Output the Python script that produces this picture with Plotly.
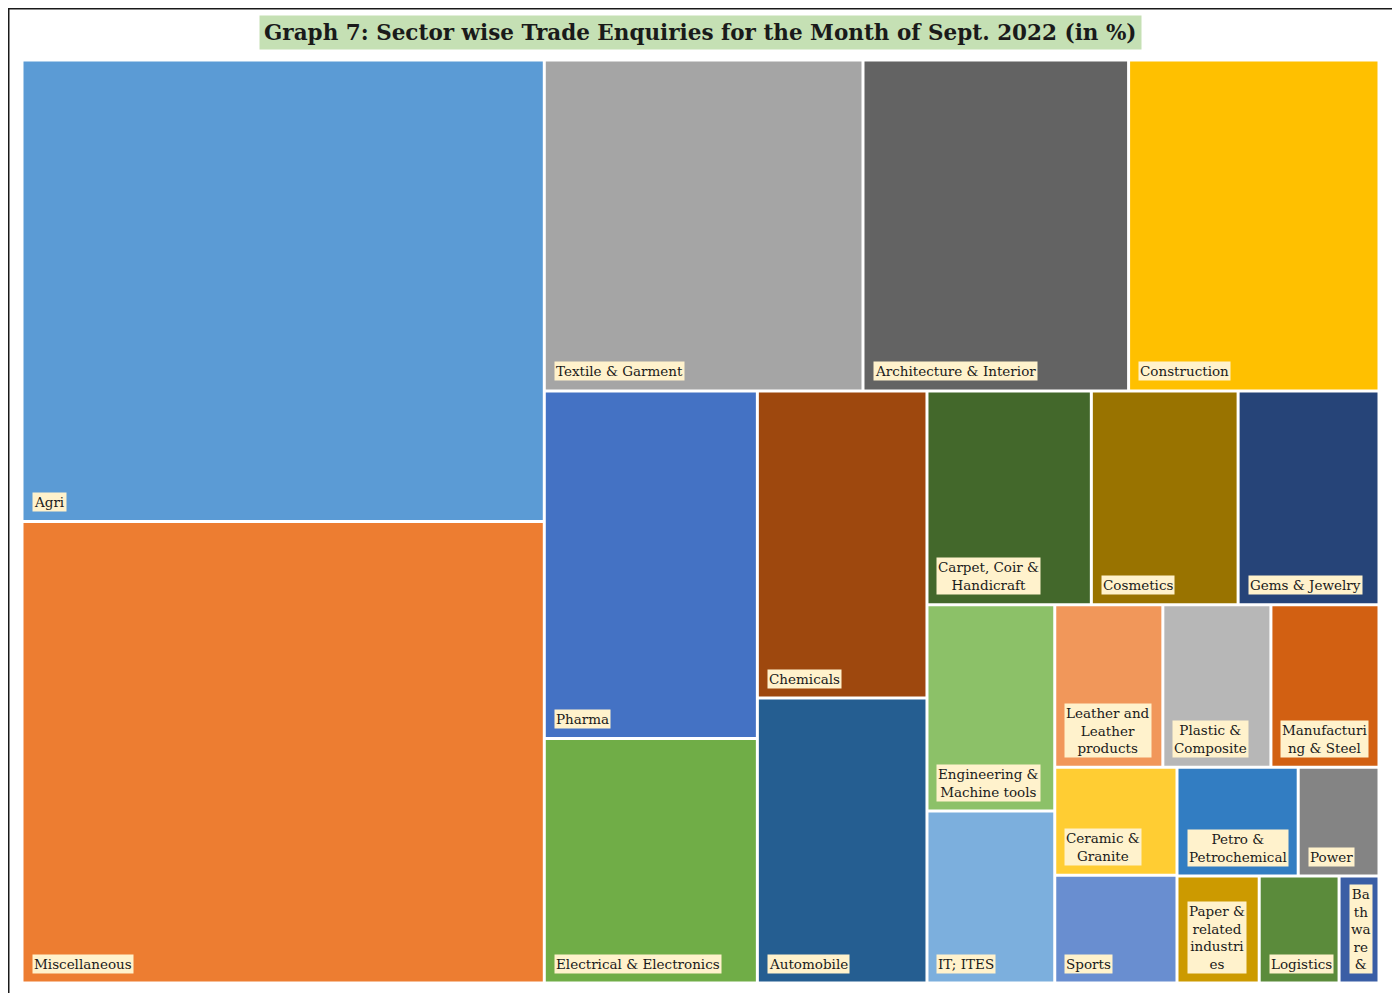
import plotly.graph_objects as go

# ---------------- data (share of trade enquiries, %) ----------------
sectors = [
    "Agri", "Miscellaneous", "Textile & Garment", "Architecture & Interior",
    "Construction", "Pharma", "Electrical & Electronics", "Chemicals",
    "Automobile", "Carpet, Coir & Handicraft", "Cosmetics", "Gems & Jewelry",
    "Engineering & Machine tools", "IT; ITES", "Leather and Leather products",
    "Plastic & Composite", "Manufacturing & Steel", "Ceramic & Granite",
    "Sports", "Petro & Petrochemical", "Power", "Paper & related industries",
    "Logistics", "Bathware & Sanitaryware",
]
shares = [
    19.2, 19.2, 8.4, 7.0,
    6.6, 5.9, 4.15, 4.15,
    3.85, 2.8, 2.5, 2.4,
    2.1, 1.75, 1.4,
    1.4, 1.4, 1.05,
    1.05, 1.05, 0.7, 0.7,
    0.68, 0.34,
]
# label text as wrapped inside the tiles
tile_labels = [
    "Agri", "Miscellaneous", "Textile & Garment", "Architecture & Interior",
    "Construction", "Pharma", "Electrical & Electronics", "Chemicals",
    "Automobile", "Carpet, Coir &<br>Handicraft", "Cosmetics", "Gems & Jewelry",
    "Engineering &<br>Machine tools", "IT; ITES", "Leather and<br>Leather<br>products",
    "Plastic &<br>Composite", "Manufacturi<br>ng & Steel", "Ceramic &<br>Granite",
    "Sports", "Petro &<br>Petrochemical", "Power", "Paper &<br>related<br>industri<br>es",
    "Logistics", "Ba<br>th<br>wa<br>re<br>&",
]
colors = [
    "#5B9BD5", "#ED7D31", "#A5A5A5", "#636363",
    "#FFC000", "#4472C4", "#70AD47", "#9E480E",
    "#255E91", "#43682B", "#997300", "#264478",
    "#8CC168", "#7CAFDD", "#F1975A",
    "#B7B7B7", "#D26012", "#FFCD33",
    "#698ED0", "#327DC2", "#848484", "#CC9A00",
    "#5B8B3B", "#3A5EA5",
]

title_text = "Graph 7: Sector wise Trade Enquiries for the Month of Sept. 2022 (in %)"

# ---------------- figure geometry ----------------
# the page body has an 8 px margin, so figure px = page px - 8
OFF = 8
FIG_W, FIG_H = 1392, 985
M_L, M_T = 22 - OFF, 60 - OFF
PW, PH = 1357, 923                 # plot area in px (1 axis unit = 1 px)
M_R = FIG_W - M_L - PW
M_B = FIG_H - M_T - PH
GAP = 3.0
RHO = 1.15                         # Excel-like preferred tile aspect (height / width)


def squarify(values, x, y, w, h, rho):
    """Squarified treemap tiling (strip along the shorter side)."""
    total = sum(values)
    scale = w * h / total
    areas = [v * scale for v in values]
    out = []
    i, n = 0, len(areas)
    while i < n:
        vertical = w >= h
        side = h if vertical else w

        def worst(group):
            s = sum(group)
            thick = s / side
            res = 0.0
            for a in group:
                length = a / thick
                cw, ch = (thick, length) if vertical else (length, thick)
                r = ch / cw
                res = max(res, r / rho, rho / r)
            return res

        j = i + 1
        best = worst(areas[i:j])
        while j < n:
            cand = worst(areas[i:j + 1])
            if cand > best:
                break
            best = cand
            j += 1
        group = areas[i:j]
        thick = sum(group) / side
        pos = y if vertical else x
        for a in group:
            length = a / thick
            if vertical:
                out.append((x, pos, x + thick, pos + length))
            else:
                out.append((pos, y, pos + length, y + thick))
            pos += length
        if vertical:
            x += thick
            w -= thick
        else:
            y += thick
            h -= thick
        i = j
    return out


order = sorted(range(len(shares)), key=lambda k: -shares[k])
rects_sorted = squarify([shares[k] for k in order], 0.0, 0.0, PW, PH, RHO)
rects = [None] * len(shares)
for k, r in zip(order, rects_sorted):
    rects[k] = r

fig = go.Figure()
annotations = []
for name, val, lab, col, (x0, y0, x1, y1) in zip(sectors, shares, tile_labels, colors, rects):
    g = GAP / 2
    a0, b0, a1, b1 = x0 + g, y0 + g, x1 - g, y1 - g
    fig.add_trace(go.Scatter(
        x=[a0, a1, a1, a0, a0], y=[b0, b0, b1, b1, b0],
        mode="lines", fill="toself", fillcolor=col,
        line=dict(width=0, color=col), showlegend=False,
        name=name, hoveron="fills",
        hovertemplate=f"{name}: {val}%<extra></extra>",
    ))
    annotations.append(dict(
        x=a0, y=b1, xref="x", yref="y", xanchor="left", yanchor="bottom",
        xshift=8, yshift=8, text=lab, showarrow=False, align="center",
        font=dict(family="DejaVu Serif", size=13.5, color="#1a1a1a"),
        bgcolor="#FFF2CC", borderpad=1,
    ))


def px_x(p):
    """page x pixel -> paper coordinate"""
    return (p - OFF - M_L) / PW


def px_y(p):
    """page y pixel -> paper coordinate"""
    return (FIG_H - M_B - (p - OFF)) / PH


annotations.append(dict(
    x=px_x(700), y=px_y(33), xref="paper", yref="paper",
    xanchor="center", yanchor="middle", showarrow=False,
    text=f"<b>{title_text}</b>",
    font=dict(family="DejaVu Serif", size=21.5, color="#1a1a1a"),
    bgcolor="#C5E0B4", borderpad=4,
))

fig.update_layout(
    width=FIG_W, height=FIG_H,
    margin=dict(l=M_L, r=M_R, t=M_T, b=M_B),
    paper_bgcolor="white", plot_bgcolor="white",
    xaxis=dict(range=[0, PW], visible=False, fixedrange=True),
    yaxis=dict(range=[PH, 0], visible=False, fixedrange=True),
    annotations=annotations,
    shapes=[dict(type="rect", xref="paper", yref="paper",
                 x0=px_x(OFF + 0.75), x1=px_x(1393), y0=px_y(1005), y1=px_y(OFF + 0.75),
                 line=dict(color="#1a1a1a", width=1.5), fillcolor="rgba(0,0,0,0)")],
    hovermode="closest",
)

fig.write_html("out.html")
